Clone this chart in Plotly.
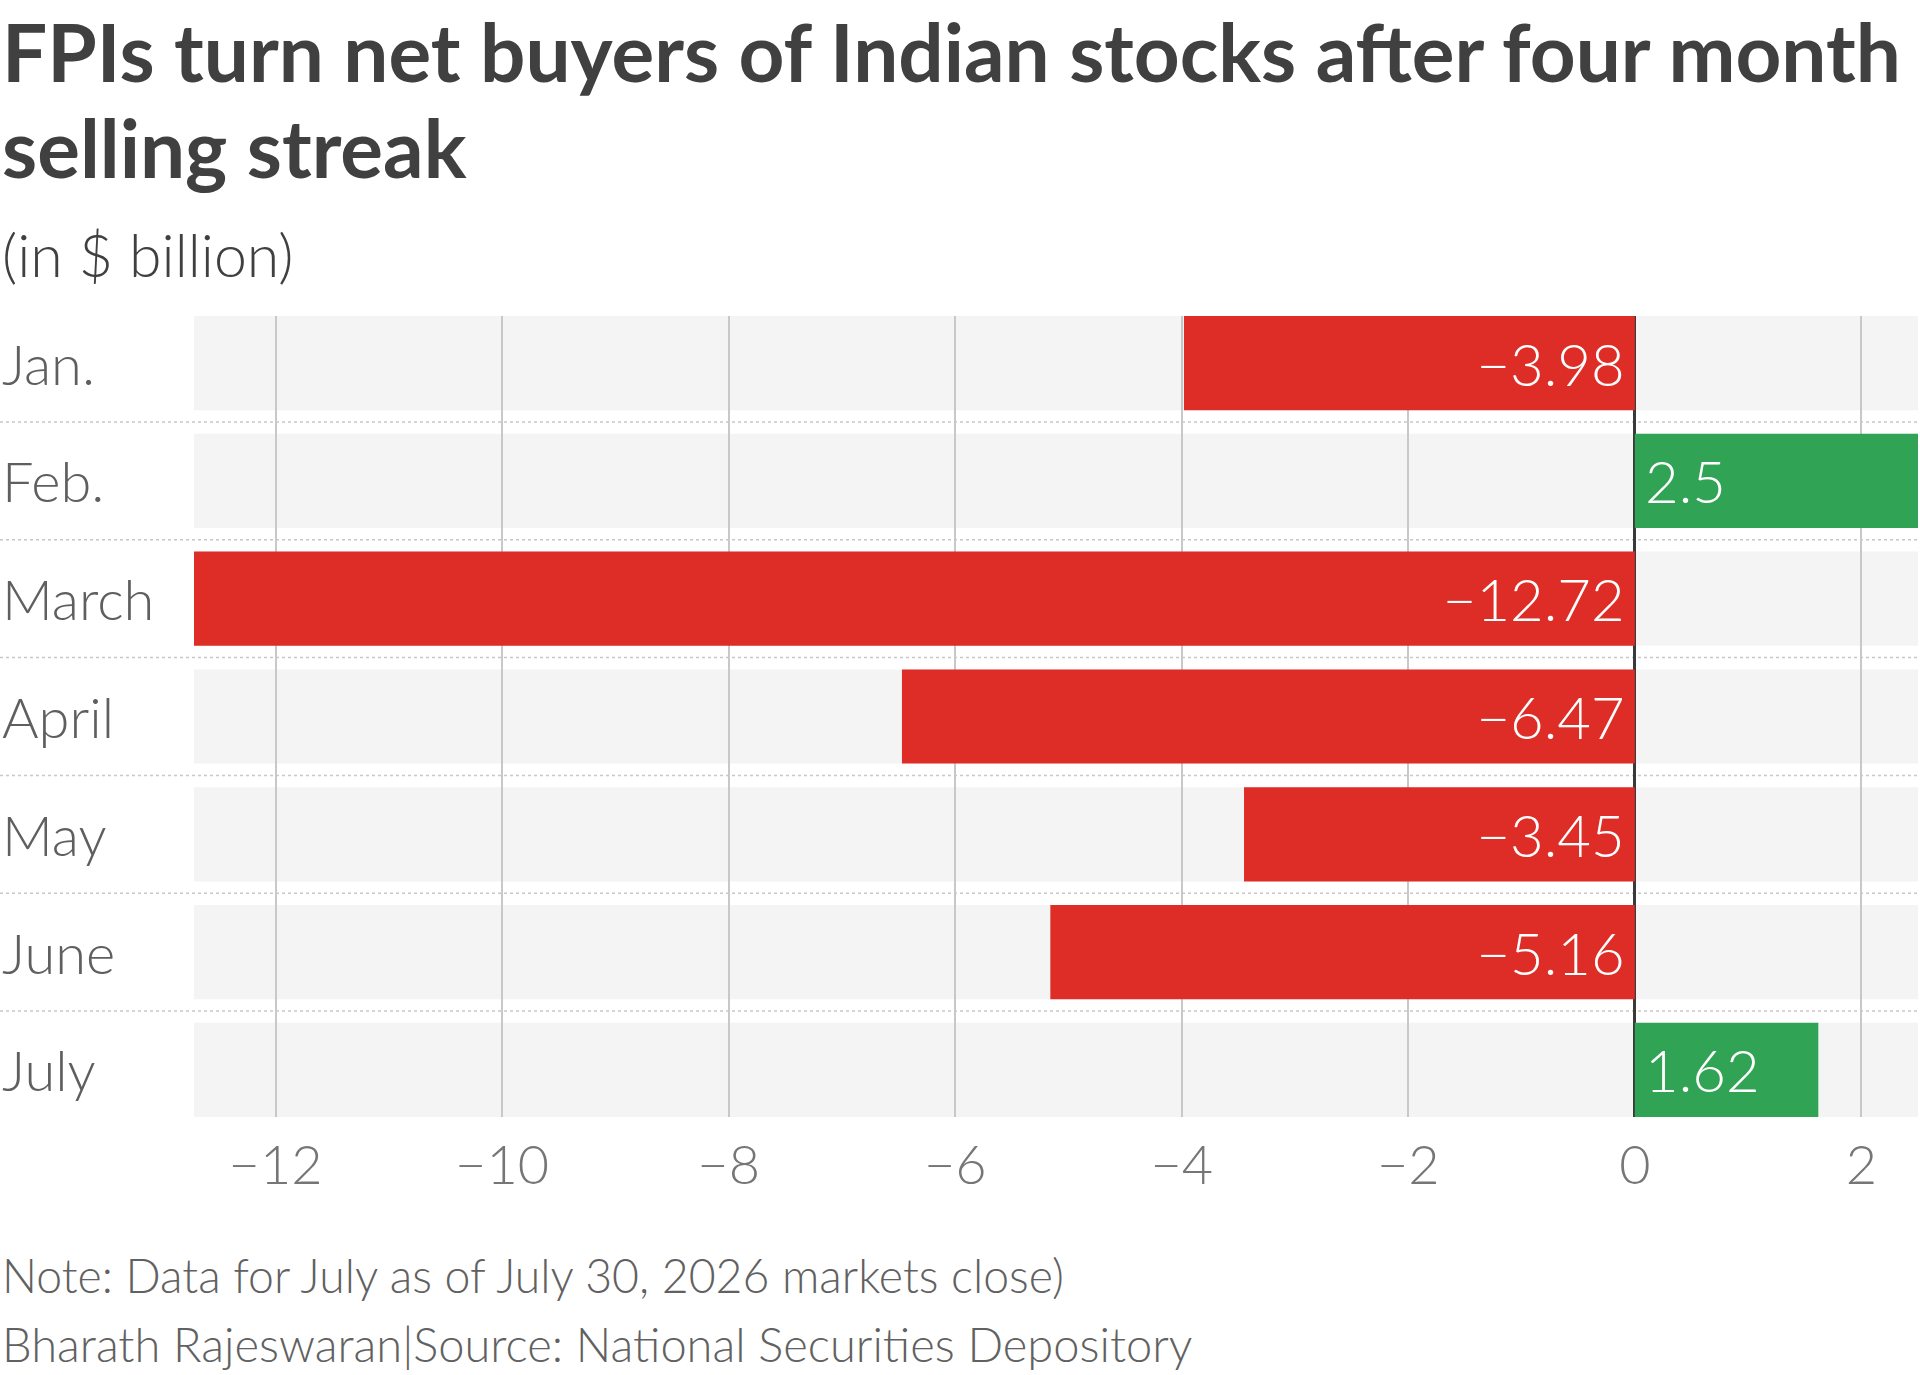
import plotly.graph_objects as go

# ---------------- data ----------------
months = ["Jan.", "Feb.", "March", "April", "May", "June", "July"]
values = [-3.98, 2.5, -12.72, -6.47, -3.45, -5.16, 1.62]
x_ticks = [-12, -10, -8, -6, -4, -2, 0, 2]
x_tick_labels = ["\u221212", "\u221210", "\u22128", "\u22126", "\u22124", "\u22122", "0", "2"]
x_range = [-12.72, 2.5]

title_lines = ["FPIs turn net buyers of Indian stocks after four month", "selling streak"]
subtitle_text = "(in $ billion)"
note_text = "Note: Data for July as of July 30, 2026 markets close)"
source_text = "Bharath Rajeswaran|Source: National Securities Depository"

# ---------------- style ----------------
W, H = 1920, 1375
ML, MR, MT, MB = 194, 2, 316, 258
PW, PH = W - ML - MR, H - MT - MB
RED, GREEN = "#de2d26", "#31a354"
BAND = "#f4f4f4"
FONT = "Lato"
SP = "\u2009"


def px_x(px):
    return (px - ML) / PW


def px_y(py):
    return 1 - (py - MT) / PH


colors = [RED if v < 0 else GREEN for v in values]
bar_text = [
    (f"{v:g}".replace("-", "\u2212") + SP) if v < 0 else (SP + f"{v:g}")
    for v in values
]

fig = go.Figure()
fig.add_trace(
    go.Bar(
        y=months,
        x=values,
        orientation="h",
        marker=dict(color=colors, line=dict(width=0)),
        text=bar_text,
        textposition="inside",
        insidetextanchor="start",
        constraintext="none",
        textfont=dict(family=FONT, size=58, color="white", weight=300),
        hoverinfo="skip",
    )
)

shapes = []
for i in range(len(months)):
    shapes.append(
        dict(
            type="rect", xref="paper", yref="y", x0=0, x1=1,
            y0=i - 0.4, y1=i + 0.4, fillcolor=BAND, line=dict(width=0),
            layer="below",
        )
    )
for i in range(len(months) - 1):
    shapes.append(
        dict(
            type="line", xref="paper", yref="y", x0=px_x(0), x1=px_x(W),
            y0=i + 0.5, y1=i + 0.5,
            line=dict(color="#c8c8c8", width=1.5, dash="dot"),
            layer="below",
        )
    )

annotations = []
for m in months:
    annotations.append(
        dict(
            xref="paper", yref="y", x=px_x(0), y=m, xanchor="left",
            yanchor="middle", text=m, showarrow=False,
            font=dict(family=FONT, size=56, color="#5f5f5f", weight=300),
        )
    )

title_tops = [1, 97]
for line, top in zip(title_lines, title_tops):
    annotations.append(
        dict(xref="paper", yref="paper", x=px_x(0), y=px_y(top), xanchor="left",
             yanchor="top", align="left", text=line, showarrow=False,
             font=dict(family=FONT, size=80, color="#404040", weight=700))
    )

annotations += [
    dict(xref="paper", yref="paper", x=px_x(0), y=px_y(217), xanchor="left",
         yanchor="top", align="left", text=subtitle_text, showarrow=False,
         font=dict(family=FONT, size=59, color="#404040", weight=300)),
    dict(xref="paper", yref="paper", x=px_x(0), y=px_y(1245), xanchor="left",
         yanchor="top", align="left", text=note_text, showarrow=False,
         font=dict(family=FONT, size=46.4, color="#616161", weight=300)),
    dict(xref="paper", yref="paper", x=px_x(0), y=px_y(1314), xanchor="left",
         yanchor="top", align="left", text=source_text, showarrow=False,
         font=dict(family=FONT, size=47, color="#616161", weight=300)),
]

fig.update_layout(
    width=W, height=H,
    margin=dict(l=ML, r=MR, t=MT, b=MB, pad=0),
    paper_bgcolor="white", plot_bgcolor="white",
    showlegend=False, bargap=0.2,
    shapes=shapes, annotations=annotations,
    font=dict(family=FONT),
    xaxis=dict(
        range=x_range, tickvals=x_ticks, ticktext=x_tick_labels,
        showgrid=True, gridcolor="#c8c8c8", gridwidth=1.5,
        zeroline=True, zerolinecolor="#3a3a3a", zerolinewidth=2.5,
        showline=False, ticks="", ticklabelstandoff=12,
        tickfont=dict(family=FONT, size=54, color="#767676", weight=300),
        fixedrange=True,
    ),
    yaxis=dict(
        type="category", categoryorder="array", categoryarray=months,
        range=[len(months) - 0.6, -0.4], showticklabels=False,
        showgrid=False, zeroline=False, showline=False, ticks="",
        fixedrange=True,
    ),
)

fig.write_html(
    "out.html",
    config={"displayModeBar": False},
    post_script="document.body.style.margin='0';document.body.style.overflow='hidden';",
)
